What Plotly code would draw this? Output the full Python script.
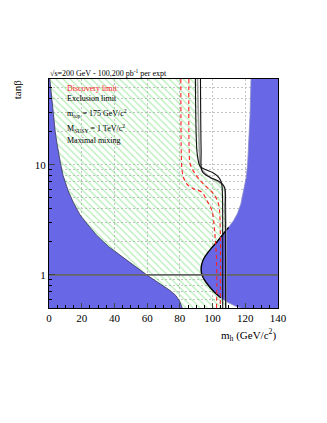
import plotly.graph_objects as go

# ---------------- data ----------------
# Left theoretically-inaccessible region boundary (m_h, tanb)
left_x = [0.5, 1.6, 2.5, 3.8, 4.9, 6.0, 7.2, 8.6, 11.7, 15.0, 19.0, 23.3, 29.0, 36.5, 45.4, 52.5,
          59.7, 64.5, 69.5, 74.0, 77.5, 79.8, 81.5]
left_y = [60, 40, 31, 20, 15.5, 12, 10, 8, 5.8, 4.5, 3.5, 2.9, 2.3, 1.8, 1.45, 1.2,
          1.0, 0.9, 0.8, 0.72, 0.65, 0.58, 0.5]

# Right theoretically-inaccessible region boundary
right_x = [123.5, 123.0, 122.2, 121.4, 120.6, 118.7, 117.3, 115.2, 112.8, 109.8, 106.5, 102.8, 99.3,
           96.5, 94.6, 93.4, 93.0, 93.5, 95.0, 97.5, 101.0, 105.0, 109.5, 114.0, 117.5]
right_y = [60, 30, 15, 10, 7.7, 5.6, 4.4, 3.6, 3.1, 2.7, 2.35, 2.0, 1.75,
           1.55, 1.4, 1.25, 1.12, 1.0, 0.9, 0.8, 0.7, 0.62, 0.56, 0.52, 0.5]

# Edge of LEP excluded (hatched) region
hatch_x = [90.8, 92.0, 92.6, 95.0, 99.0, 104.0, 107.0, 107.9, 108.1]
hatch_y = [60, 13, 9.5, 8.5, 7.6, 6.9, 6.3, 4.0, 0.5]

# Discovery limits (two luminosities)
disc1_x = [80.6, 80.9, 81.3, 82.2, 84.2, 88.3, 93.4, 96.5, 99.6, 101.2, 102.3, 102.6, 102.4]
disc1_y = [60, 12, 9, 7.7, 6.7, 6.05, 5.63, 4.73, 3.84, 2.53, 1.5, 0.8, 0.5]
disc2_x = [85.5, 85.7, 86.3, 89.3, 94.4, 100.5, 103.6, 104.7, 104.8, 104.7]
disc2_y = [60, 13.5, 10.2, 8.27, 6.7, 5.45, 4.42, 2.53, 1.2, 0.5]

# Exclusion limits (two luminosities)
excl1_x = [89.5, 90.4, 91.4, 92.5, 96.0, 100.5, 104.0, 105.5, 106.0, 106.2, 106.2]
excl1_y = [60, 13.5, 10.6, 9.6, 9.0, 8.4, 7.6, 6.8, 5.5, 2.0, 0.5]
excl2_x = [92.6, 93.0, 93.4, 95.5, 98.5, 104.7, 107.3, 107.7, 108.0]
excl2_y = [60, 13.5, 8.87, 8.15, 7.67, 6.95, 6.26, 3.84, 0.5]

x_ticks = [0, 20, 40, 60, 80, 100, 120, 140]
y_ticks = [1, 10]
y_minor = [0.5, 0.6, 0.7, 0.8, 0.9, 2, 3, 4, 5, 6, 7, 8, 9, 20, 30, 40, 50, 60]

XMIN, XMAX, YMIN, YMAX = 0, 140, 0.5, 60
OUTX_L, OUTX_R, OUTY_B, OUTY_T = -8, 150, 0.4, 80   # closing corners outside the view
BLUE = "#6868e6"
SERIF = "Liberation Serif"

fig = go.Figure()

# hatched LEP region (between left blue boundary and the hatch edge)
hx = [hatch_x[0]] + hatch_x + [hatch_x[-1], left_x[-1]] + left_x[::-1] + [left_x[0], hatch_x[0]]
hy = [OUTY_T] + hatch_y + [OUTY_B, OUTY_B] + left_y[::-1] + [OUTY_T, OUTY_T]
fig.add_trace(go.Scatter(
    x=hx, y=hy, mode="lines", fill="toself",
    fillcolor="rgba(0,0,0,0)", line=dict(width=0),
    fillpattern=dict(shape="\\", fgcolor="#6cdc6c", bgcolor="rgba(0,0,0,0)",
                     size=5, solidity=0.25),
    hoverinfo="skip", showlegend=False))

# left blue region
fig.add_trace(go.Scatter(
    x=[OUTX_L, left_x[0]] + left_x + [left_x[-1], OUTX_L],
    y=[OUTY_T, OUTY_T] + left_y + [OUTY_B, OUTY_B],
    mode="lines", fill="toself", fillcolor=BLUE,
    line=dict(color="#333355", width=0.8),
    showlegend=False, hoverinfo="skip"))

# right blue region
fig.add_trace(go.Scatter(
    x=[right_x[0]] + right_x + [right_x[-1], OUTX_R, OUTX_R, right_x[0]],
    y=[OUTY_T] + right_y + [OUTY_B, OUTY_B, OUTY_T, OUTY_T],
    mode="lines", fill="toself", fillcolor=BLUE,
    line=dict(color="#8888cc", width=0.8),
    showlegend=False, hoverinfo="skip"))
# black outline on lower part of right boundary
fig.add_trace(go.Scatter(
    x=right_x[9:22], y=right_y[9:22], mode="lines",
    line=dict(color="black", width=1.4, shape="spline", smoothing=0.6),
    showlegend=False, hoverinfo="skip"))

# tanb = 1 line
fig.add_trace(go.Scatter(x=[XMIN, XMAX], y=[1, 1], mode="lines",
                         line=dict(color="#666666", width=1.8),
                         showlegend=False, hoverinfo="skip"))

# hatch edge (grey)
fig.add_trace(go.Scatter(x=hatch_x, y=hatch_y, mode="lines",
                         line=dict(color="#a0a0a0", width=1.6, shape="spline"),
                         showlegend=False, hoverinfo="skip"))

# discovery limits
for xs, ys in [(disc1_x, disc1_y), (disc2_x, disc2_y)]:
    fig.add_trace(go.Scatter(x=xs, y=ys, mode="lines",
                             line=dict(color="#ff2020", width=1.1, dash="4px,3px", shape="spline"),
                             showlegend=False, hoverinfo="skip"))
# exclusion limits
for xs, ys in [(excl1_x, excl1_y), (excl2_x, excl2_y)]:
    fig.add_trace(go.Scatter(x=xs, y=ys, mode="lines",
                             line=dict(color="#111111", width=1.1, shape="spline"),
                             showlegend=False, hoverinfo="skip"))

GRIDC = "#c4c4c4"
grid = dict(gridcolor=GRIDC, griddash="2px,2px", gridwidth=0.6)

fig.update_xaxes(range=[XMIN, XMAX], tickvals=x_ticks, ticks="inside", ticklen=5,
                 showline=True, linecolor="black", linewidth=1, mirror=True,
                 showgrid=True, **grid, zeroline=False,
                 tickfont=dict(family=SERIF, size=11, color="black"),
                 minor=dict(dtick=5, ticks="inside", ticklen=3, tickcolor="black", showgrid=False),
                 layer="above traces")
fig.update_yaxes(type="log", range=[-0.30103, 1.7781513], tickvals=y_ticks,
                 ticktext=["1", "10"], ticks="inside", ticklen=6,
                 showline=True, linecolor="black", linewidth=1, mirror=True,
                 showgrid=True, **grid, zeroline=False,
                 tickfont=dict(family=SERIF, size=11, color="black"),
                 minor=dict(tickvals=y_minor, ticks="inside", ticklen=3, tickcolor="black",
                            showgrid=True, gridcolor=GRIDC, griddash="2px,2px", gridwidth=0.6),
                 layer="above traces")

ann = []
def txt(s, x, y, color="black", size=8, xanchor="left", **kw):
    ann.append(dict(text=s, x=x, y=y, xref="paper", yref="paper", showarrow=False,
                    xanchor=xanchor, yanchor="middle",
                    font=dict(family=SERIF, size=size, color=color), **kw))

txt("\u221as=200 GeV - 100,200 pb<sup>-1</sup> per expt", -0.005, 1.028, size=8)
txt("Discovery limit", 0.072, 0.959, color="#ff2020")
txt("Exclusion limit", 0.072, 0.916)
txt("m<sub>top</sub> = 175 GeV/c<sup>2</sup>", 0.072, 0.850)
txt("M<sub>SUSY</sub> = 1 TeV/c<sup>2</sup>", 0.072, 0.784)
txt("Maximal mixing", 0.072, 0.730)
txt("m<sub>h</sub> (GeV/c<sup>2</sup>)", 1.0, -0.12, size=11, xanchor="right")
txt("tan\u03b2", -0.14, 0.955, size=11, xanchor="center", textangle=-90)

# page body has an 8px margin, so shift the plot area accordingly
fig.update_layout(width=327, height=423, margin=dict(l=41, r=57, t=71, b=123),
                  paper_bgcolor="white", plot_bgcolor="white", annotations=ann,
                  showlegend=False)

fig.write_html("out.html")
